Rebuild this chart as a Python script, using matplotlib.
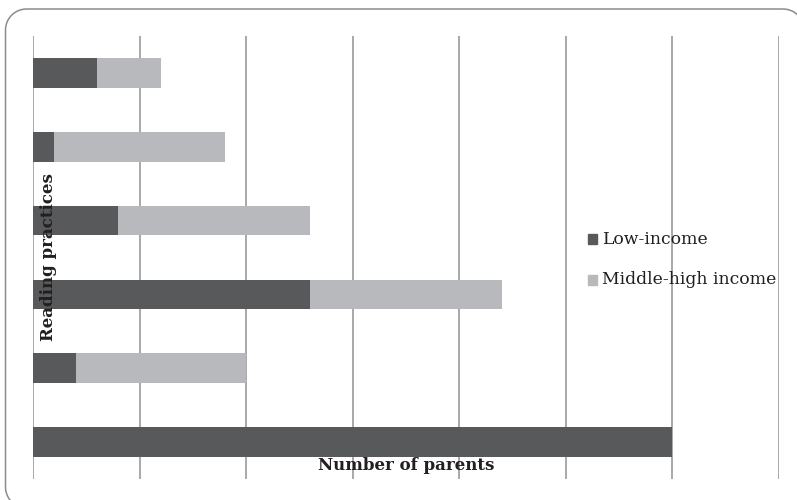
import matplotlib
matplotlib.use("Agg")
import matplotlib.pyplot as plt
from matplotlib.patches import Rectangle, PathPatch
from matplotlib.path import Path
from matplotlib.transforms import IdentityTransform
import numpy as np

plt.rcParams['font.family'] = ['DejaVu Serif']

# Reading practices, listed from top bar to bottom bar
practices = ["Practice 1", "Practice 2", "Practice 3", "Practice 4", "Practice 5", "Practice 6"]
low_income = [3, 1, 4, 13, 2, 30]
middle_high = [3, 8, 9, 9, 8, 0]
x_ticks = [0, 5, 10, 15, 20, 25, 30, 35]

dark = "#58595b"
light = "#b8b9bc"
grid_c = "#9a9a9a"
text_c = "#231f20"

W, H = 797, 500
fig = plt.figure(figsize=(W / 100, H / 100), dpi=100)


def rounded_rect(x0, y0, x1, y1, r, n=14):
    """Closed rounded-rectangle outline in pixel coordinates."""
    pts = []
    corners = [(x1 - r, y1 - r, 0), (x0 + r, y1 - r, 90),
               (x0 + r, y0 + r, 180), (x1 - r, y0 + r, 270)]
    for cx, cy, a0 in corners:
        for t in np.linspace(np.radians(a0), np.radians(a0 + 90), n):
            pts.append((cx + r * np.cos(t), cy + r * np.sin(t)))
    pts.append(pts[0])
    return Path(pts)


# rounded outer frame (pixel coordinates, origin bottom-left)
frame = PathPatch(rounded_rect(5.5, -8, 804, H - 9, 21),
                  transform=IdentityTransform(), fill=False,
                  edgecolor="#8c8c8c", linewidth=1.1)
fig.patches.append(frame)

left, right = 33 / W, 779 / W
top, bottom = 1 - 36 / H, 1 - 479 / H
ax = fig.add_axes([left, bottom, right - left, top - bottom])

y = np.arange(len(practices))
h = 0.4
ax.barh(y, low_income, height=h, color=dark, label="Low-income", zorder=3)
ax.barh(y, middle_high, left=low_income, height=h, color=light,
        label="Middle-high income", zorder=3)

ax.set_xlim(x_ticks[0], x_ticks[-1])
ax.set_ylim(len(practices) - 0.5, -0.5)
for xv in x_ticks:
    ax.axvline(xv, color=grid_c, linewidth=1.2, zorder=1)

for s in ax.spines.values():
    s.set_visible(False)
ax.set_xticks([])
ax.set_yticks([])
ax.patch.set_alpha(0)

fig.text(49 / W, 1 - 257 / H, "Reading practices", rotation=90, ha="center",
         va="center", fontsize=12, fontweight="bold", color=text_c)
fig.text(406 / W, 1 - 465 / H, "Number of parents", ha="center", va="center",
         fontsize=12, fontweight="bold", color=text_c)

# legend
for yy, col, lab in [(239, dark, "Low-income"), (280, light, "Middle-high income")]:
    fig.patches.append(Rectangle((588 / W, 1 - (yy + 5) / H), 9 / W, 10 / H,
                                 transform=fig.transFigure, color=col))
    fig.text(602 / W, 1 - yy / H, lab, ha="left", va="center", fontsize=12.4,
             color=text_c)

fig.savefig("out.png", dpi=100)
